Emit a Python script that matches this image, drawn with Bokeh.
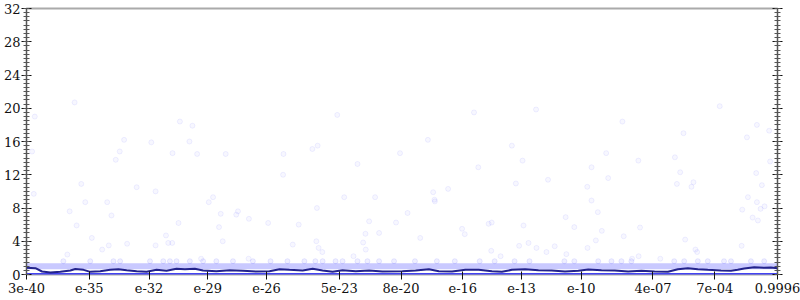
from bokeh.plotting import figure
from bokeh.models import Range1d, LinearAxis, FixedTicker, SingleIntervalTicker
from bokeh.embed import file_html
from bokeh.resources import INLINE

# x axis: rank position along the sorted value axis; tick labels are the values there
tick_pos = [0, 63, 123, 182, 241, 314, 376, 438, 497, 557, 629, 691, 754]
tick_labels = ["3e-40", "e-35", "e-32", "e-29", "e-26", "5e-23", "8e-20",
               "e-16", "e-13", "e-10", "4e-07", "7e-04", "0.9996"]

# sparse samples
out_x = [48.3, 8.3, 154.0, 166.6, 98.0, 125.3, 163.6, 5.6, 93.6, 146.6, 171.3, 200.0, 89.6,
         55.0, 110.6, 129.6, 7.3, 187.3, 183.0, 59.0, 81.0, 43.3, 212.3, 195.0, 210.6, 85.3,
         223.3, 152.6, 50.3, 193.3, 140.0, 65.6, 197.0, 101.0, 142.3, 146.3, 82.6, 129.6, 76.0,
         41.0, 175.3, 223.0,
         312.0, 403.0, 375.0, 258.0, 287.0, 292.3, 332.3, 257.6, 319.0, 350.0, 408.3, 423.3,
         409.6, 291.6,
         382.6, 242.6, 273.3, 344.0, 371.0, 340.3, 354.0, 395.3, 267.3, 291.0, 293.3, 297.0,
         338.0, 340.6, 328.3, 410.0,
         449.3, 511.6, 696.0, 598.3, 733.3, 745.6, 659.6, 723.3, 487.3, 582.0, 498.0, 614.3,
         651.0, 746.6, 453.6, 567.3, 656.3, 732.6, 584.0, 523.6, 491.3, 653.0, 669.6, 667.6,
         738.3, 563.0, 724.3, 567.3, 733.3, 741.0, 737.0, 718.6, 573.6, 541.3, 729.0, 734.3,
         464.0, 467.0, 499.0, 550.0, 616.0, 437.3, 440.0, 577.6, 599.6, 571.6, 661.3, 718.0,
         504.0, 494.6, 512.0, 530.3, 563.3, 466.6, 522.0, 542.0, 671.6, 673.3, 476.0, 614.6,
         608.0, 636.3]
out_y = [20.7, 19.0, 18.4, 17.9, 16.2, 15.9, 16.0, 14.8, 14.8, 14.6, 14.5, 14.5, 13.8,
         10.9, 10.5, 10.0, 9.7, 9.3, 8.7, 8.7, 8.7, 7.6, 7.6, 7.3, 7.2, 7.1,
         6.7, 6.2, 5.9, 5.7, 4.7, 4.4, 4.0, 3.7, 3.8, 3.8, 3.5, 3.5, 3.0,
         2.4, 1.9, 1.9,
         19.2, 16.2, 14.6, 14.5, 15.1, 15.5, 13.3, 12.0, 9.3, 9.3, 9.9, 10.3,
         9.0, 8.0,
         7.4, 6.2, 6.0, 6.4, 6.25, 4.9, 5.0, 4.4, 3.6, 4.0, 3.2, 2.7,
         3.85, 3.0, 2.2, 8.8,
         19.5, 19.85, 20.25, 18.4, 18.0, 17.3, 17.0, 16.5, 15.5, 14.6, 13.7, 13.7,
         14.1, 13.6, 12.9, 12.9, 12.3, 12.2, 11.6, 11.4, 10.95, 10.9, 11.1, 10.55,
         10.75, 10.55, 9.3, 8.9, 8.7, 8.2, 7.9, 7.8, 7.5, 6.9, 6.85, 6.5,
         6.1, 6.25, 5.9, 5.7, 5.65, 5.5, 4.85, 5.25, 4.6, 4.1, 4.2, 3.45,
         3.8, 3.45, 3.2, 3.4, 3.2, 2.85, 2.7, 2.45, 3.0, 2.7, 2.2, 2.2,
         1.9, 1.9]

# samples just above the dense level 1
low_x = [37, 64, 87.3, 94, 124, 137.3, 144, 150.6, 164, 177.3, 190.6, 207.3, 227.3, 245, 262,
         279, 290, 297.3, 310.3, 317.3, 332.3, 342.3, 354, 369, 390, 412, 430, 455, 470, 490,
         505, 540, 550, 574, 587.3, 597.3, 607.3, 650.3, 660.3, 674, 684, 700.3, 707.3, 727.3,
         740.6]
low_y = [1.6] * len(low_x)

# dense levels (values that occur for nearly every position)
dense_y = [0, 1]
dense_left = [0, 0]
dense_right = [754, 754]

# running mean
mean_x = [0.0, 9, 15.6, 24, 34, 44, 49, 57.3, 64, 74, 84, 92.3, 100.6, 110.6, 120.6, 130.6,
          140.6, 150.6, 159, 169, 177.3, 190.6, 204, 217.3, 230.6, 244, 254, 264, 277.3, 287.3,
          297.3, 307.3, 317.3, 330.6, 344, 357.3, 377.3, 390.6, 404, 414, 427.3, 440.6, 454,
          467.3, 477.3, 487.3, 500.6, 514, 527.3, 540.6, 554, 564, 577.3, 590.6, 604, 617.3,
          630.6, 644, 654, 664, 674, 684, 697.3, 707.3, 714, 720.6, 730.6, 740.6, 747.3, 754]
mean_y = [0.80, 0.76, 0.36, 0.24, 0.32, 0.48, 0.66, 0.56, 0.32, 0.40, 0.56, 0.64, 0.52, 0.40,
          0.32, 0.56, 0.44, 0.68, 0.64, 0.68, 0.48, 0.40, 0.52, 0.44, 0.36, 0.40, 0.64, 0.56,
          0.48, 0.68, 0.48, 0.32, 0.52, 0.40, 0.48, 0.36, 0.40, 0.48, 0.64, 0.40, 0.36, 0.56,
          0.56, 0.40, 0.32, 0.56, 0.64, 0.52, 0.48, 0.36, 0.44, 0.60, 0.52, 0.48, 0.36, 0.44,
          0.36, 0.32, 0.64, 0.76, 0.64, 0.56, 0.48, 0.44, 0.56, 0.72, 0.88, 0.80, 0.84, 0.76]

FONT = "DejaVu Serif"
FSIZE = "13px"

p = figure(width=800, height=300, output_backend="svg", toolbar_location=None,
           x_range=Range1d(0, 754), y_range=Range1d(0, 32),
           x_axis_type=None, y_axis_type=None,
           min_border_left=23, min_border_right=23, min_border_top=8, min_border_bottom=26)
p.background_fill_color = "white"
p.border_fill_color = "white"
p.outline_line_color = "#aaaaaa"
p.outline_line_width = 2
p.xgrid.visible = False
p.ygrid.visible = False

# dense levels
p.segment(x0=dense_left[1:], x1=dense_right[1:], y0=dense_y[1:], y1=dense_y[1:],
          line_color="#3c3cff", line_alpha=0.28, line_width=6)
p.segment(x0=dense_left[:1], x1=dense_right[:1], y0=dense_y[:1], y1=dense_y[:1],
          line_color="#4343f2", line_alpha=1.0, line_width=3)

# sparse samples
p.scatter(x=low_x, y=low_y, size=5, marker="circle",
          fill_color="#3030ff", fill_alpha=0.08, line_color="#3030ff", line_alpha=0.10)
p.scatter(x=out_x, y=out_y, size=5, marker="circle",
          fill_color="#3030ff", fill_alpha=0.04, line_color="#3030ff", line_alpha=0.07)

# running mean
p.line(x=mean_x, y=mean_y, line_color="#23238c", line_width=2)

def yaxis(show_labels):
    ax = LinearAxis(ticker=SingleIntervalTicker(interval=4, num_minor_ticks=8))
    ax.axis_line_color = "#555555"
    ax.major_tick_line_color = "#111111"
    ax.minor_tick_line_color = "#555555"
    ax.major_tick_in = 5
    ax.major_tick_out = 5
    ax.minor_tick_in = 3
    ax.minor_tick_out = 3
    ax.major_label_standoff = 1
    ax.major_label_text_font = FONT
    ax.major_label_text_font_size = FSIZE
    ax.major_label_text_color = "#111111" if show_labels else None
    return ax

p.add_layout(yaxis(True), "left")
p.add_layout(yaxis(False), "right")

xa = LinearAxis(ticker=FixedTicker(ticks=tick_pos, minor_ticks=[]))
xa.major_label_overrides = {t: l for t, l in zip(tick_pos, tick_labels)}
xa.axis_line_color = None
xa.major_tick_line_color = "#111111"
xa.major_tick_in = 3
xa.major_tick_out = 5
xa.minor_tick_line_color = None
xa.major_label_standoff = 3
xa.major_label_text_font = FONT
xa.major_label_text_font_size = FSIZE
xa.major_label_text_color = "#111111"
p.add_layout(xa, "below")

open("out.html", "w").write(file_html(p, INLINE))
